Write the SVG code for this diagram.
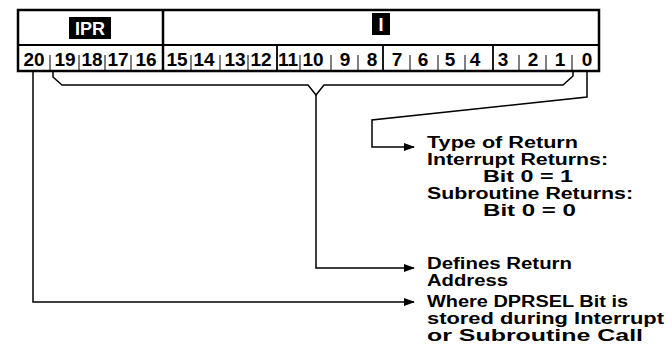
<svg xmlns="http://www.w3.org/2000/svg" width="672" height="356" viewBox="0 0 672 356">
<defs>
<marker id="ah" markerWidth="11" markerHeight="8" refX="10" refY="4" orient="auto" markerUnits="userSpaceOnUse">
<path d="M0,0 L11,4 L0,8 z" fill="#000"/>
</marker>
<style>
.t{font-family:"Liberation Sans",Arial,sans-serif;font-weight:bold;font-size:16px;fill:#000}
.d{font-family:"Liberation Sans",Arial,sans-serif;font-weight:bold;font-size:19px;fill:#000;text-anchor:middle}
.w{font-family:"Liberation Sans",Arial,sans-serif;font-weight:bold;font-size:18px;fill:#fff;text-anchor:middle}
.ln{stroke:#000;stroke-width:1.5;fill:none}
.tk{stroke:#000;stroke-width:1}
.nb{stroke:#000;stroke-width:1.8}
</style>
</defs>
<rect width="672" height="356" fill="#fff"/>
<g id="register">
<rect x="18" y="10" width="581" height="61" fill="#fff" stroke="#000" stroke-width="2.5"/>
<line x1="18" y1="45" x2="599" y2="45" stroke="#000" stroke-width="2"/>
<line x1="163" y1="10" x2="163" y2="71" stroke="#000" stroke-width="2.5"/>
<line class="nb" x1="277" y1="45" x2="277" y2="71"/>
<line class="nb" x1="383" y1="45" x2="383" y2="71"/>
<line class="nb" x1="493" y1="45" x2="493" y2="71"/>
<g class="tk">
<line x1="50" y1="55" x2="50" y2="71"/><line x1="79" y1="55" x2="79" y2="71"/><line x1="105" y1="55" x2="105" y2="71"/><line x1="131" y1="55" x2="131" y2="71"/>
<line x1="191" y1="55" x2="191" y2="71"/><line x1="220" y1="55" x2="220" y2="71"/><line x1="248" y1="55" x2="248" y2="71"/>
<line x1="300" y1="55" x2="300" y2="71"/><line x1="331" y1="55" x2="331" y2="71"/><line x1="358" y1="55" x2="358" y2="71"/>
<line x1="410" y1="55" x2="410" y2="71"/><line x1="438" y1="55" x2="438" y2="71"/><line x1="465" y1="55" x2="465" y2="71"/>
<line x1="519" y1="55" x2="519" y2="71"/><line x1="546" y1="55" x2="546" y2="71"/><line x1="572" y1="55" x2="572" y2="71"/>
</g>
</g>
<g id="ipr-label">
<rect x="69" y="17" width="42" height="22" fill="#000"/>
<text class="w" x="90" y="35">IPR</text>
</g>
<g id="i-label">
<rect x="372" y="13" width="18" height="22" fill="#000"/>
<text class="w" x="381" y="31">I</text>
</g>
<g id="bits">
<text class="d" x="34" y="66">20</text>
<text class="d" x="65" y="66">19</text>
<text class="d" x="92" y="66">18</text>
<text class="d" x="118" y="66">17</text>
<text class="d" x="146" y="66">16</text>
<text class="d" x="177" y="66">15</text>
<text class="d" x="204" y="66">14</text>
<text class="d" x="235" y="66">13</text>
<text class="d" x="261" y="66">12</text>
<text class="d" x="288" y="66">11</text>
<text class="d" x="313" y="66">10</text>
<text class="d" x="345" y="66">9</text>
<text class="d" x="372" y="66">8</text>
<text class="d" x="397" y="66">7</text>
<text class="d" x="423" y="66">6</text>
<text class="d" x="450" y="66">5</text>
<text class="d" x="475" y="66">4</text>
<text class="d" x="503" y="66">3</text>
<text class="d" x="533" y="66">2</text>
<text class="d" x="560" y="66">1</text>
<text class="d" x="587" y="66">0</text>
</g>
<g id="connectors">
<path class="ln" d="M53,71 L53,77 L62,85 L308,85 L316,95 L324,85 L563,85 L573,76 L573,71"/>
<path class="ln" d="M316,95 L316,268 L414,268" marker-end="url(#ah)"/>
<path class="ln" d="M587,71 L587,97 L372,120 L372,147 L414,147" marker-end="url(#ah)"/>
<path class="ln" d="M33,71 L33,302 L414,302" marker-end="url(#ah)"/>
</g>
<g id="type-of-return">
<text class="t" x="427" y="148" textLength="151" lengthAdjust="spacingAndGlyphs">Type of Return</text>
<text class="t" x="427" y="165" textLength="181" lengthAdjust="spacingAndGlyphs">Interrupt Returns:</text>
<text class="t" x="483" y="182" textLength="90" lengthAdjust="spacingAndGlyphs">Bit 0 =  1</text>
<text class="t" x="427" y="199" textLength="206" lengthAdjust="spacingAndGlyphs">Subroutine Returns:</text>
<text class="t" x="483" y="216" textLength="93" lengthAdjust="spacingAndGlyphs">Bit 0 =  0</text>
</g>
<g id="return-address">
<text class="t" x="427" y="269" textLength="145" lengthAdjust="spacingAndGlyphs">Defines Return</text>
<text class="t" x="427" y="286" textLength="81" lengthAdjust="spacingAndGlyphs">Address</text>
</g>
<g id="dprsel">
<text class="t" x="427" y="307" textLength="201" lengthAdjust="spacingAndGlyphs">Where DPRSEL Bit is</text>
<text class="t" x="427" y="324" textLength="237" lengthAdjust="spacingAndGlyphs">stored during Interrupt</text>
<text class="t" x="427" y="341" textLength="216" lengthAdjust="spacingAndGlyphs">or Subroutine Call</text>
</g>
</svg>
